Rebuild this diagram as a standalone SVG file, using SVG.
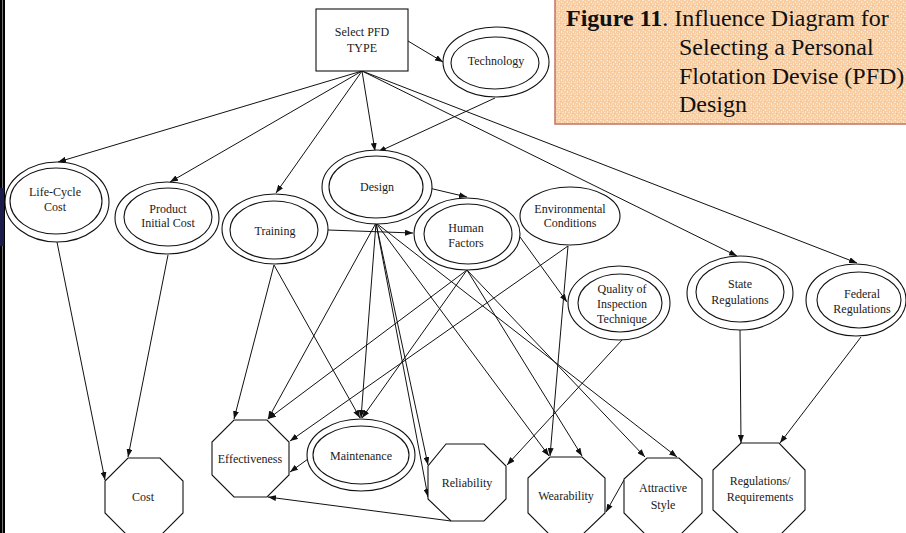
<svg xmlns="http://www.w3.org/2000/svg" width="906" height="533" viewBox="0 0 906 533">
  <defs>
    <style>
      .lbl { font-family: "Liberation Serif", "Times New Roman", serif; font-size: 12px; fill: #1a1a1a; text-anchor: middle; }
      .ttl { font-family: "Liberation Serif", "Times New Roman", serif; font-size: 24px; fill: #111; }
      .shape { fill: #fff; stroke: #111; stroke-width: 1.1; }
      .inner { fill: none; stroke: #111; stroke-width: 1.1; }
      .c line { stroke: #111; stroke-width: 1; marker-end: url(#arr); }
    </style>
    <marker id="arr" viewBox="0 0 8 6" refX="8" refY="3" markerWidth="8" markerHeight="6" markerUnits="userSpaceOnUse" orient="auto">
      <path d="M0,0 L8,3 L0,6 z" fill="#111"/>
    </marker>
    <!-- speckled peach texture for the caption box -->
    <pattern id="paper" width="6" height="6" patternUnits="userSpaceOnUse">
      <rect width="6" height="6" fill="#F8CDA2"/>
      <rect x="0" y="0" width="2" height="1" fill="#FCE6CE"/>
      <rect x="3" y="1" width="1" height="2" fill="#FDEBD6"/>
      <rect x="4" y="4" width="2" height="1" fill="#FBE0C2"/>
      <rect x="1" y="3" width="1" height="2" fill="#FCE6CE"/>
      <rect x="5" y="2" width="1" height="1" fill="#FBE0C2"/>
      <rect x="2" y="5" width="1" height="1" fill="#F3C092"/>
    </pattern>
  </defs>

  <rect width="906" height="533" fill="#fff"/>

  <!-- left page edge -->
  <rect x="0" y="0" width="2" height="533" fill="#000"/>
  <rect x="2" y="0" width="1" height="533" fill="#777"/>
  <rect x="3" y="0" width="2" height="533" fill="#000"/>
  <rect x="0" y="188" width="4" height="58" fill="#1c1c4c"/>

  <!-- caption -->
  <g id="caption">
    <rect x="555" y="-2" width="360" height="126" fill="url(#paper)" stroke="#C27465" stroke-width="1.5"/>
    <text class="ttl" x="566" y="26"><tspan font-weight="bold">Figure 11</tspan>. Influence Diagram for</text>
    <text class="ttl" x="679" y="55">Selecting a Personal</text>
    <text class="ttl" x="679" y="84">Flotation Devise (PFD)</text>
    <text class="ttl" x="679" y="112">Design</text>
  </g>

  <!-- connectors -->
  <g id="connectors" class="c">
    <line x1="362" y1="71" x2="58" y2="162"/>
    <line x1="362" y1="71" x2="170" y2="182"/>
    <line x1="362" y1="71" x2="276" y2="193"/>
    <line x1="362" y1="71" x2="375" y2="151"/>
    <line x1="408" y1="41" x2="443" y2="62"/>
    <line x1="362" y1="71" x2="737" y2="256"/>
    <line x1="362" y1="71" x2="857" y2="263"/>
    <line x1="495" y1="98" x2="378" y2="152"/>
    <line x1="429" y1="188" x2="467" y2="197"/>
    <line x1="328" y1="230" x2="413" y2="233"/>
    <line x1="57" y1="242" x2="105" y2="480"/>
    <line x1="168" y1="255" x2="128" y2="457"/>
    <line x1="274" y1="265" x2="234" y2="419"/>
    <line x1="274" y1="265" x2="360" y2="418"/>
    <line x1="376" y1="223" x2="268" y2="419"/>
    <line x1="376" y1="223" x2="361" y2="418"/>
    <line x1="376" y1="223" x2="428" y2="465"/>
    <line x1="376" y1="223" x2="428" y2="497"/>
    <line x1="376" y1="223" x2="549" y2="456"/>
    <line x1="376" y1="223" x2="677" y2="457"/>
    <line x1="467" y1="270" x2="268" y2="419"/>
    <line x1="467" y1="270" x2="362" y2="418"/>
    <line x1="467" y1="270" x2="582" y2="456"/>
    <line x1="467" y1="270" x2="645" y2="457"/>
    <line x1="520" y1="237" x2="567" y2="302"/>
    <line x1="568" y1="246" x2="290" y2="441"/>
    <line x1="568" y1="246" x2="550" y2="456"/>
    <line x1="622" y1="340" x2="507" y2="465"/>
    <line x1="740" y1="330" x2="741" y2="443"/>
    <line x1="861" y1="337" x2="780" y2="443"/>
    <line x1="624" y1="480" x2="606" y2="512"/>
    <line x1="451" y1="521" x2="268" y2="497"/>
    <line x1="308" y1="459" x2="290" y2="472"/>
  </g>

  <!-- decision -->
  <g id="select-pfd">
    <rect class="shape" x="316" y="9" width="92" height="62"/>
    <text class="lbl" x="362" y="36">Select PFD</text>
    <text class="lbl" x="362" y="52">TYPE</text>
  </g>

  <!-- chance nodes -->
  <g id="technology">
    <ellipse class="shape" cx="496" cy="62" rx="53" ry="35"/>
    <ellipse class="inner" cx="495" cy="63" rx="44" ry="26"/>
    <text class="lbl" x="496" y="65">Technology</text>
  </g>
  <g id="life-cycle-cost">
    <ellipse class="shape" cx="57" cy="202" rx="52" ry="40"/>
    <ellipse class="inner" cx="56" cy="201" rx="46" ry="33"/>
    <text class="lbl" x="55" y="196">Life-Cycle</text>
    <text class="lbl" x="55" y="211">Cost</text>
  </g>
  <g id="product-initial-cost">
    <ellipse class="shape" cx="167" cy="218" rx="52" ry="36"/>
    <ellipse class="inner" cx="168" cy="217" rx="44" ry="29"/>
    <text class="lbl" x="168" y="213">Product</text>
    <text class="lbl" x="168" y="227">Initial Cost</text>
  </g>
  <g id="training">
    <ellipse class="shape" cx="275" cy="229" rx="53" ry="35"/>
    <ellipse class="inner" cx="274" cy="230" rx="44" ry="29"/>
    <text class="lbl" x="275" y="235">Training</text>
  </g>
  <g id="design">
    <ellipse class="shape" cx="377" cy="187" rx="55" ry="37"/>
    <ellipse class="inner" cx="376" cy="187" rx="47" ry="31"/>
    <text class="lbl" x="377" y="191">Design</text>
  </g>
  <g id="human-factors">
    <ellipse class="shape" cx="467" cy="234" rx="53" ry="36"/>
    <ellipse class="inner" cx="468" cy="234" rx="44" ry="30"/>
    <text class="lbl" x="466" y="232">Human</text>
    <text class="lbl" x="466" y="247">Factors</text>
  </g>
  <g id="environmental-conditions">
    <ellipse class="shape" cx="570" cy="216" rx="50" ry="29"/>
    <text class="lbl" x="570" y="213">Environmental</text>
    <text class="lbl" x="570" y="227">Conditions</text>
  </g>
  <g id="quality-of-inspection">
    <ellipse class="shape" cx="619" cy="303" rx="51" ry="37"/>
    <ellipse class="inner" cx="620" cy="303" rx="42" ry="29"/>
    <text class="lbl" x="622" y="293">Quality of</text>
    <text class="lbl" x="622" y="308">Inspection</text>
    <text class="lbl" x="622" y="323">Technique</text>
  </g>
  <g id="state-regulations">
    <ellipse class="shape" cx="740" cy="293" rx="53" ry="37"/>
    <ellipse class="inner" cx="740" cy="292" rx="44" ry="30"/>
    <text class="lbl" x="740" y="288">State</text>
    <text class="lbl" x="740" y="304">Regulations</text>
  </g>
  <g id="federal-regulations">
    <ellipse class="shape" cx="856" cy="300" rx="50" ry="36"/>
    <ellipse class="inner" cx="859" cy="300" rx="42" ry="28"/>
    <text class="lbl" x="862" y="298">Federal</text>
    <text class="lbl" x="862" y="313">Regulations</text>
  </g>
  <g id="maintenance">
    <ellipse class="shape" cx="361" cy="455" rx="54" ry="36"/>
    <ellipse class="inner" cx="361" cy="455" rx="48" ry="29"/>
    <text class="lbl" x="361" y="460">Maintenance</text>
  </g>

  <!-- value nodes -->
  <g id="cost">
    <polygon class="shape" points="128,458 160,458 183,481 183,513 160,536 128,536 105,513 105,481"/>
    <text class="lbl" x="143" y="501">Cost</text>
  </g>
  <g id="effectiveness">
    <polygon class="shape" points="234,420 267,420 289,442 289,475 267,497 234,497 212,475 212,442"/>
    <text class="lbl" x="250" y="463">Effectiveness</text>
  </g>
  <g id="reliability">
    <polygon class="shape" points="446,444 484,444 506,466 506,499 484,521 451,521 428,499 428,466"/>
    <text class="lbl" x="467" y="487">Reliability</text>
  </g>
  <g id="wearability">
    <polygon class="shape" points="550,457 582,457 605,478 605,513 582,535 550,535 528,513 528,478"/>
    <text class="lbl" x="566" y="500">Wearability</text>
  </g>
  <g id="attractive-style">
    <polygon class="shape" points="647,458 679,458 702,479 702,513 679,536 647,536 624,513 624,479"/>
    <text class="lbl" x="663" y="492">Attractive</text>
    <text class="lbl" x="663" y="509">Style</text>
  </g>
  <g id="regulations-requirements">
    <polygon class="shape" points="741,443 779,443 805,470 805,510 779,536 741,536 713,510 713,470"/>
    <text class="lbl" x="760" y="485">Regulations/</text>
    <text class="lbl" x="760" y="501">Requirements</text>
  </g>
</svg>
